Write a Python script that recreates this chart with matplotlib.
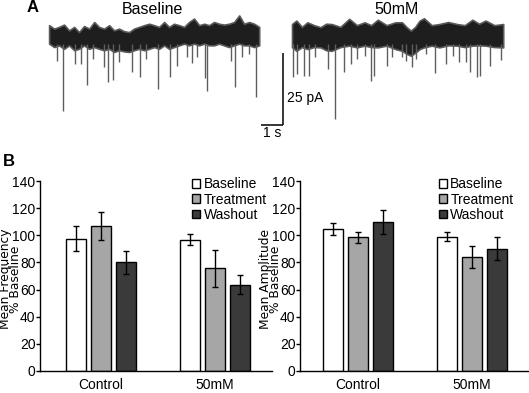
import matplotlib
matplotlib.use("Agg")
import matplotlib.pyplot as plt
from matplotlib.patches import Patch
import numpy as np

plt.rcParams['font.family'] = ['Liberation Sans', 'DejaVu Sans']

# ---------------- Panel A data ----------------
# band envelope of trace 1 (time s, pA)
t1_env = [0.05, 0.28, 0.5, 0.73, 0.96, 1.19, 1.41, 1.64, 1.87, 2.1, 2.32, 2.55, 2.78, 3.0,
          3.23, 3.46, 3.69, 3.91, 4.14, 4.37, 4.6, 4.82, 5.05, 5.28, 5.5, 5.73, 5.96, 6.19,
          6.41, 6.64, 6.87, 7.1, 7.32, 7.55, 7.78, 8.0, 8.23, 8.46, 8.69, 8.91, 9.14, 9.37, 9.6]
t1_top = [4.1, 2.9, 3.5, 4.3, 2.3, 3.5, 1.7, 3.8, 2.9, 5.2, 3.5, 2.9, 4.1, 2.3, 2.9, 2.0,
          1.7, 2.9, 3.5, 4.1, 4.6, 4.1, 3.5, 5.2, 3.5, 4.6, 4.1, 3.5, 5.2, 6.4, 4.1, 4.6,
          4.1, 5.2, 4.6, 4.3, 4.6, 5.2, 7.5, 4.6, 5.2, 4.6, 3.5]
t1_bot = [-2.3, -3.5, -2.9, -4.1, -2.9, -4.6, -4.1, -2.9, -4.1, -3.5, -4.1, -4.6, -4.1, -5.2,
          -4.6, -5.0, -5.2, -4.6, -4.1, -4.6, -4.1, -3.5, -4.1, -2.9, -4.1, -3.5, -2.9, -2.3,
          -2.9, -2.3, -2.9, -2.3, -2.9, -2.9, -2.3, -2.9, -3.5, -2.9, -2.3, -2.9, -2.9, -3.5, -2.9]
# events (time s, peak pA)
t1_ev_t = [0.42, 0.68, 1.23, 1.49, 1.76, 2.06, 2.55, 2.74, 2.95, 3.23, 3.80, 4.17, 4.44,
           4.99, 5.53, 5.86, 6.32, 6.55, 6.77, 7.12, 7.23, 8.32, 8.51, 8.82, 9.12, 9.47]
t1_ev_a = [-8.2, -25.6, -9.4, -9.4, -16.7, -7.6, -10.5, -15.7, -14.8, -8.8, -12.3, -14.0, -7.6,
           -18.1, -13.8, -10.0, -7.0, -9.1, -6.8, -14.2, -18.6, -8.2, -17.5, -7.0, -5.9, -20.7]

# band envelope of trace 2
t2_env = [0.0, 0.2, 0.45, 0.7, 1.0, 1.3, 1.55, 1.8, 2.2, 2.6, 2.95, 3.3, 3.6, 3.9, 4.3, 4.7,
          5.0, 5.2, 5.4, 5.6, 5.8, 6.0, 6.35, 6.7, 7.1, 7.5, 7.85, 8.2, 8.5, 8.8, 9.2, 9.6]
t2_top = [4.5, 5.7, 3.5, 5.1, 4.1, 3.4, 4.6, 4.5, 3.5, 6.3, 4.1, 5.1, 4.1, 6.0, 4.1, 5.1,
          5.1, 3.5, 2.2, 3.5, 5.7, 6.5, 4.1, 4.5, 5.2, 4.5, 4.1, 6.0, 4.6, 5.7, 4.1, 4.5]
t2_bot = [-3.5, -4.8, -3.5, -4.2, -3.5, -3.6, -4.6, -4.8, -3.5, -3.0, -3.6, -3.0, -3.5, -3.6,
          -3.0, -4.2, -4.8, -5.8, -6.5, -5.5, -4.2, -3.6, -3.0, -3.6, -2.9, -3.0, -3.5, -3.0,
          -2.9, -3.0, -3.5, -3.6]
t2_ev_t = [0.05, 0.25, 0.55, 0.75, 1.05, 1.65, 1.95, 2.35, 2.7, 2.95, 3.3, 3.6, 3.75, 4.3, 4.55,
           5.0, 5.2, 5.45, 5.65, 6.1, 6.5, 7.0, 7.3, 7.6, 7.9, 8.1, 8.4, 8.55, 9.0, 9.5]
t2_ev_a = [-13.8, -12.8, -13.4, -13.4, -7.0, -11.1, -28.5, -12.3, -9.4, -7.6, -6.5, -15.2, -13.4, -10.0, -7.0,
           -7.0, -8.2, -10.3, -7.6, -5.9, -12.6, -9.4, -6.5, -8.8, -8.8, -12.3, -14.0, -13.4, -10.0, -8.0]

trace_titles = ["Baseline", "50mM"]

# ---------------- Panel B data ----------------
groups = ["Control", "50mM"]
series = ["Baseline", "Treatment", "Washout"]
freq_mean = {"Baseline": [97.3, 96.8], "Treatment": [106.8, 75.6], "Washout": [80.1, 63.6]}
freq_err = {"Baseline": [9.2, 4.1], "Treatment": [10.5, 13.8], "Washout": [8.3, 6.8]}
amp_mean = {"Baseline": [104.9, 99.0], "Treatment": [98.5, 84.0], "Washout": [110.0, 90.1]}
amp_err = {"Baseline": [4.5, 3.2], "Treatment": [3.9, 8.1], "Washout": [9.0, 8.3]}
yticks = [0, 20, 40, 60, 80, 100, 120, 140]
freq_label = "Mean Frequency\n% Baseline"
amp_label = "Mean Amplitude\n% Baseline"

colors = {"Baseline": "#ffffff", "Treatment": "#a6a6a6", "Washout": "#3a3a3a"}

W, H = 529, 393
fig = plt.figure(figsize=(W / 100, H / 100), dpi=100)

# ---------------- Panel A ----------------
axA = fig.add_axes([0, 1 - 150 / H, 1, 150 / H])
px_per_s = 22.0
px_per_pA = 2.88
x0px, y0px = 48, 37
axA.set_xlim(-x0px / px_per_s, (W - x0px) / px_per_s)
axA.set_ylim((y0px - 150) / px_per_pA, y0px / px_per_pA)
axA.axis('off')

offsets = [0.0, (292 - x0px) / px_per_s]
traces = [(t1_env, t1_top, t1_bot, t1_ev_t, t1_ev_a), (t2_env, t2_top, t2_bot, t2_ev_t, t2_ev_a)]
for off, (te, tt, tb, et, ea) in zip(offsets, traces):
    te = np.array(te) + off
    axA.vlines(np.array(et) + off, -2.5, ea, color='#5e5e5e', lw=1.0)
    axA.fill_between(te, tb, tt, facecolor='#1e1e1e', lw=1.2, edgecolor='#5a5a5a')
for off, title in zip(offsets, trace_titles):
    axA.text(off + 4.75, (y0px - 10) / px_per_pA, title, ha='center', va='center', fontsize=11.5)

# scale bar
sx = (283 - x0px) / px_per_s
y_top = (y0px - 53) / px_per_pA
y_bot = y_top - 25
axA.plot([sx, sx], [y_top, y_bot], color='black', lw=1.1, solid_capstyle='butt')
axA.plot([sx - 1, sx], [y_bot, y_bot], color='black', lw=1.1, solid_capstyle='butt')
axA.text(sx + 0.2, y_bot + 9.4, "25 pA", ha='left', va='center', fontsize=10)
axA.text(sx - 0.5, y_bot - 2.9, "1 s", ha='center', va='center', fontsize=10)

fig.text(27 / W, 1 - 8 / H, "A", fontsize=12, fontweight='bold', ha='left', va='center')
fig.text(3 / W, 1 - 161 / H, "B", fontsize=12, fontweight='bold', ha='left', va='center')

# ---------------- Panel B ----------------
bw = 20 / 114
step = 25 / 114
x = np.arange(len(groups))


def bar_panel(rect, xlim, means, errs, ylabel, leg_x, lab_px):
    ax = fig.add_axes(rect)
    for i, s in enumerate(series):
        ax.bar(x + (i - 1) * step, means[s], width=bw, color=colors[s], edgecolor='black',
               linewidth=1.0, yerr=errs[s], capsize=2.5,
               error_kw=dict(ecolor='black', elinewidth=1.0, capthick=1.0), zorder=2)
    ax.set_xlim(*xlim)
    ax.set_ylim(0, 140)
    ax.set_yticks(yticks)
    ax.set_xticks(x)
    ax.set_xticklabels(groups, fontsize=10)
    ax.tick_params(axis='x', length=0, pad=5)
    ax.tick_params(axis='y', length=3, width=1, pad=0.2, labelsize=10)
    for sp in ['top', 'right']:
        ax.spines[sp].set_visible(False)
    for sp in ['left', 'bottom']:
        ax.spines[sp].set_linewidth(1.0)
    fig.text(lab_px / W, 1 - 279 / H, ylabel, rotation=90, ha='center', va='center',
             multialignment='center', fontsize=8.8, linespacing=0.68, family=['DejaVu Sans'])
    handles = [Patch(facecolor=colors[s], edgecolor='black', lw=1.0) for s in series]
    ax.legend(handles, series, loc='upper left', bbox_to_anchor=(leg_x, 1.02), frameon=False,
              fontsize=10, handlelength=0.6, handleheight=0.6, handletextpad=0.25,
              labelspacing=0.1, borderpad=0, borderaxespad=0)
    return ax


bottom = (H - 371) / H
height = 190 / H
bar_panel([40 / W, bottom, 232 / W, height], (-0.535, 1.5), freq_mean, freq_err,
          freq_label, 0.655, 10.6)
bar_panel([300 / W, bottom, 229 / W, height], (-0.506, 1.504), amp_mean, amp_err,
          amp_label, 0.605, 270.6)

fig.savefig("out.png", dpi=100)
